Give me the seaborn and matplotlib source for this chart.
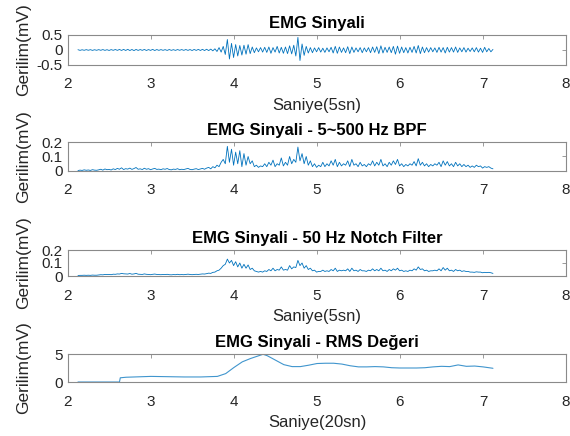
import numpy as np
import matplotlib
matplotlib.use("Agg")
import matplotlib.pyplot as plt
import seaborn as sns

# ---------------- data ----------------
t_start = 2.12
t_step = 0.025

emg_raw = [
    0.01, -0.012, 0.008, -0.01, 0.012, -0.009, 0.011, -0.013, 0.009, -0.01,
    0.012, -0.01, 0.014, -0.012, 0.01, -0.015, 0.013, -0.011, 0.016, -0.012,
    0.018, -0.015, 0.02, -0.016, 0.022, -0.018, 0.017, -0.02, 0.019, -0.014,
    0.015, -0.012, 0.018, -0.016, 0.014, -0.013, 0.02, -0.017, 0.015, -0.012,
    0.013, -0.011, 0.012, -0.014, 0.016, -0.012, 0.011, -0.013, 0.015, -0.01,
    0.014, -0.012, 0.016, -0.013, 0.015, -0.017, 0.018, -0.014, 0.02, -0.016,
    0.022, -0.018, 0.025, -0.02, 0.03, -0.028, 0.04, -0.05, 0.08, -0.07,
    0.12, -0.15, 0.35, -0.3, 0.22, -0.25, 0.18, -0.2, 0.15, -0.17,
    0.16, -0.14, 0.18, -0.12, 0.1, -0.09, 0.07, -0.06, 0.08, -0.07,
    0.09, -0.08, 0.1, -0.11, 0.08, -0.07, 0.12, -0.1, 0.09, -0.11,
    0.1, -0.12, 0.14, -0.13, 0.16, -0.2, 0.42, -0.35, 0.2, -0.18,
    0.12, -0.1, 0.08, -0.09, 0.07, -0.06, 0.08, -0.07, 0.06, -0.08,
    0.07, -0.06, 0.09, -0.1, 0.12, -0.11, 0.1, -0.08, 0.07, -0.09,
    0.11, -0.12, 0.1, -0.08, 0.07, -0.06, 0.08, -0.09, 0.07, -0.06,
    0.08, -0.09, 0.1, -0.08, 0.11, -0.12, 0.14, -0.1, 0.09, -0.08,
    0.1, -0.09, 0.12, -0.14, 0.13, -0.11, 0.1, -0.09, 0.08, -0.1,
    0.09, -0.08, 0.12, -0.1, 0.15, -0.12, 0.1, -0.09, 0.08, -0.07,
    0.08, -0.06, 0.07, -0.08, 0.09, -0.07, 0.08, -0.1, 0.09, -0.07,
    0.08, -0.07, 0.1, -0.08, 0.07, -0.06, 0.08, -0.07, 0.06, -0.05,
    0.07, -0.06, 0.08, -0.07, 0.06, -0.08, 0.09, -0.06, 0.05, -0.06, 0.02,
]

emg_bpf = [
    0.003, 0.006, 0.004, 0.008, 0.005, 0.007, 0.004, 0.009, 0.006, 0.005,
    0.008, 0.012, 0.006, 0.014, 0.009, 0.011, 0.007, 0.015, 0.01, 0.018,
    0.012, 0.022, 0.01, 0.016, 0.013, 0.02, 0.011, 0.017, 0.024, 0.012,
    0.015, 0.01, 0.019, 0.012, 0.016, 0.009, 0.014, 0.018, 0.011, 0.013,
    0.009, 0.015, 0.012, 0.017, 0.01, 0.008, 0.013, 0.011, 0.016, 0.009,
    0.012, 0.01, 0.014, 0.018, 0.011, 0.009, 0.013, 0.016, 0.01, 0.014,
    0.018, 0.012, 0.02, 0.025, 0.015, 0.03, 0.022, 0.04, 0.03, 0.06,
    0.08, 0.05, 0.17, 0.06, 0.15, 0.04, 0.13, 0.05, 0.14, 0.03,
    0.12, 0.04, 0.1, 0.05, 0.07, 0.03, 0.04, 0.025, 0.035, 0.03,
    0.05, 0.03, 0.06, 0.04, 0.075, 0.03, 0.05, 0.04, 0.09, 0.035,
    0.06, 0.04, 0.1, 0.05, 0.08, 0.06, 0.165, 0.07, 0.12, 0.05,
    0.1, 0.04, 0.07, 0.03, 0.05, 0.025, 0.04, 0.03, 0.06, 0.03,
    0.05, 0.035, 0.07, 0.04, 0.08, 0.03, 0.06, 0.035, 0.05, 0.04,
    0.07, 0.03, 0.08, 0.04, 0.05, 0.03, 0.06, 0.035, 0.045, 0.03,
    0.05, 0.04, 0.07, 0.035, 0.06, 0.04, 0.08, 0.035, 0.05, 0.03,
    0.06, 0.04, 0.07, 0.045, 0.08, 0.035, 0.05, 0.03, 0.045, 0.035,
    0.05, 0.04, 0.065, 0.035, 0.085, 0.04, 0.06, 0.035, 0.05, 0.03,
    0.045, 0.035, 0.05, 0.04, 0.06, 0.03, 0.07, 0.04, 0.065, 0.035,
    0.05, 0.03, 0.06, 0.035, 0.05, 0.03, 0.045, 0.03, 0.04, 0.025,
    0.035, 0.025, 0.04, 0.03, 0.035, 0.02, 0.03, 0.025, 0.03, 0.02, 0.015,
]

emg_notch = [
    0.004, 0.005, 0.005, 0.006, 0.005, 0.006, 0.005, 0.007, 0.006, 0.006,
    0.008, 0.01, 0.009, 0.012, 0.011, 0.012, 0.01, 0.014, 0.013, 0.016,
    0.015, 0.02, 0.017, 0.016, 0.015, 0.019, 0.014, 0.016, 0.02, 0.014,
    0.013, 0.012, 0.016, 0.013, 0.012, 0.01, 0.013, 0.015, 0.012, 0.011,
    0.01, 0.012, 0.011, 0.013, 0.01, 0.009, 0.011, 0.01, 0.013, 0.01,
    0.011, 0.01, 0.012, 0.014, 0.012, 0.01, 0.012, 0.013, 0.012, 0.014,
    0.016, 0.015, 0.018, 0.022, 0.02, 0.028, 0.03, 0.04, 0.045, 0.06,
    0.08, 0.09, 0.13, 0.1, 0.12, 0.08, 0.11, 0.07, 0.1, 0.06,
    0.09, 0.06, 0.085, 0.05, 0.06, 0.04, 0.035, 0.03, 0.035, 0.03,
    0.04, 0.035, 0.05, 0.04, 0.06, 0.04, 0.05, 0.045, 0.07, 0.045,
    0.05, 0.045, 0.08, 0.055, 0.07, 0.065, 0.12, 0.08, 0.1, 0.06,
    0.08, 0.05, 0.06, 0.04, 0.045, 0.03, 0.035, 0.035, 0.045, 0.035,
    0.04, 0.035, 0.05, 0.04, 0.06, 0.035, 0.045, 0.04, 0.045, 0.04,
    0.055, 0.035, 0.06, 0.04, 0.045, 0.035, 0.05, 0.04, 0.04, 0.035,
    0.045, 0.04, 0.055, 0.04, 0.05, 0.04, 0.06, 0.04, 0.045, 0.035,
    0.05, 0.04, 0.055, 0.045, 0.06, 0.04, 0.045, 0.035, 0.04, 0.035,
    0.045, 0.04, 0.055, 0.045, 0.07, 0.05, 0.055, 0.04, 0.045, 0.035,
    0.04, 0.04, 0.045, 0.04, 0.055, 0.04, 0.065, 0.045, 0.06, 0.04,
    0.045, 0.035, 0.05, 0.04, 0.045, 0.035, 0.04, 0.035, 0.035, 0.03,
    0.03, 0.028, 0.032, 0.03, 0.03, 0.025, 0.028, 0.026, 0.028, 0.025, 0.02,
]

rms_t = [2.12, 2.62, 2.63, 2.7, 2.8, 3.0, 3.2, 3.4, 3.6, 3.8, 3.9, 4.0, 4.1,
         4.2, 4.3, 4.35, 4.4, 4.5, 4.6, 4.7, 4.8, 4.9, 5.0, 5.1, 5.2, 5.3,
         5.4, 5.5, 5.6, 5.7, 5.8, 5.9, 6.0, 6.1, 6.2, 6.3, 6.4, 6.5, 6.6,
         6.7, 6.8, 6.9, 7.0, 7.12]
rms_v = [0, 0, 0.75, 0.85, 0.9, 1.0, 0.95, 0.9, 0.9, 1.0, 1.5, 2.6, 3.6,
         4.2, 4.7, 4.95, 4.7, 3.9, 3.1, 2.75, 2.75, 3.0, 3.3, 3.35, 3.35, 3.2,
         2.9, 2.7, 2.7, 2.75, 2.7, 2.55, 2.5, 2.5, 2.5, 2.55, 2.7, 2.8, 2.75,
         3.05, 2.8, 2.85, 2.7, 2.45]

titles = ["EMG Sinyali", "EMG Sinyali - 5~500 Hz BPF",
          "EMG Sinyali - 50 Hz Notch Filter", "EMG Sinyali - RMS Değeri"]
xlabels = ["Saniye(5sn)", None, "Saniye(5sn)", "Saniye(20sn)"]
ylabel = "Gerilim(mV)"
x_ticks = [2, 3, 4, 5, 6, 7, 8]
y_ticks = [[-0.5, 0, 0.5], [0, 0.1, 0.2], [0, 0.1, 0.2], [0, 5]]
y_ticklabels = [["-0.5", "0", "0.5"], ["0", "0.1", "0.2"], ["0", "0.1", "0.2"], ["0", "5"]]
y_lims = [(-0.5, 0.5), (0, 0.2), (0, 0.2), (0, 5)]

# ---------------- style ----------------
sns.set_theme(style="white")
plt.rcParams["font.family"] = ["Liberation Sans", "DejaVu Sans"]
plt.rcParams["axes.unicode_minus"] = False

line_color = "#0072BD"
spine_color = "#8a8a8a"
text_color = "#262626"

W, H = 570, 436
fig = plt.figure(figsize=(W / 100, H / 100), dpi=100)

# axes boxes in pixels: (left, top, right, bottom)
boxes = [(68, 35, 566, 65), (68, 142, 566, 171), (68, 250, 566, 276), (68, 354, 566, 382)]

t_sig = t_start + t_step * np.arange(len(emg_raw))
series = [(t_sig, emg_raw), (t_sig, emg_bpf), (t_sig, emg_notch), (np.array(rms_t), rms_v)]

for i, (l, tp, r, b) in enumerate(boxes):
    ax = fig.add_axes([l / W, 1 - b / H, (r - l) / W, (b - tp) / H])
    x, y = series[i]
    sns.lineplot(x=x, y=y, ax=ax, color=line_color,
                 linewidth=0.6 if i < 3 else 0.8, estimator=None, sort=False,
                 alpha=1.0 if i < 3 else 0.75)
    ax.set_xlim(2, 8)
    ax.set_ylim(*y_lims[i])
    ax.set_xticks(x_ticks)
    ax.set_xticklabels([str(v) for v in x_ticks])
    ax.set_yticks(y_ticks[i])
    ax.set_yticklabels(y_ticklabels[i])
    ax.tick_params(axis="both", direction="in", length=3, width=0.6,
                   color=spine_color, labelsize=11, labelcolor=text_color,
                   top=True, right=True)
    ax.tick_params(axis="x", pad=9)
    ax.tick_params(axis="y", pad=4)
    for sp in ax.spines.values():
        sp.set_visible(True)
        sp.set_color(spine_color)
        sp.set_linewidth(0.8)
    ax.set_title(titles[i], fontsize=12, fontweight="bold", color="black", pad=5)
    ax.set_ylabel(ylabel, fontsize=12.5, color=text_color)
    ax.yaxis.set_label_coords(-0.074, 0.5)
    if xlabels[i]:
        ax.set_xlabel(xlabels[i], fontsize=12, color=text_color, labelpad=5)
    else:
        ax.set_xlabel("")

fig.savefig("out.png", dpi=100)
